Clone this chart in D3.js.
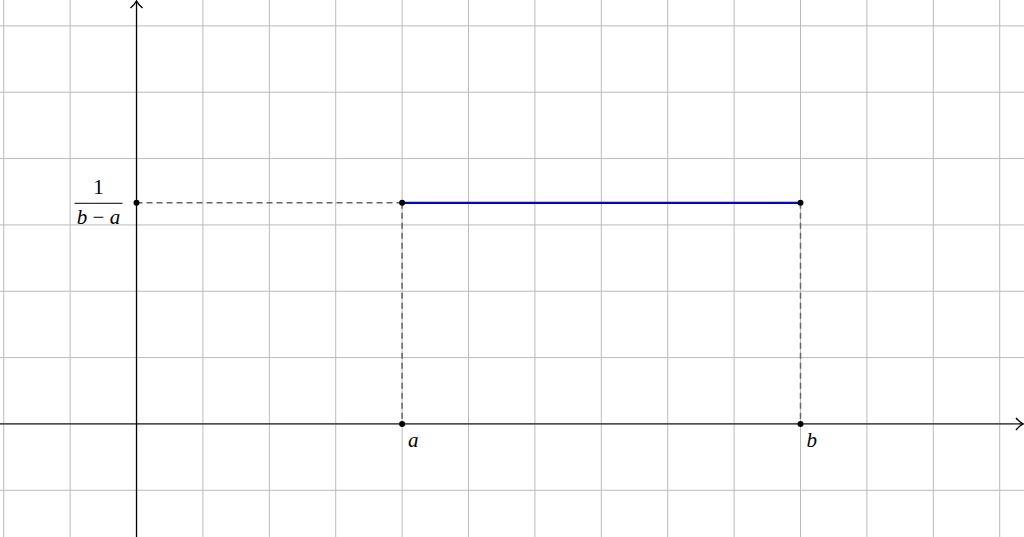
<!DOCTYPE html>
<html>
<head>
<meta charset="utf-8">
<script src="https://cdn.jsdelivr.net/npm/d3@7"></script>
<style>
  html, body { margin: 0; padding: 0; background: #fff; }
  svg { display: block; }
  .lbl { font-family: "Liberation Serif", "DejaVu Serif", serif; font-size: 21px; fill: #000; }
</style>
</head>
<body>
<svg id="chart" width="1024" height="537"></svg>
<script>
// interval endpoints and density height
const endpoints = [4, 10];
const density = [10 / 3];
const endpointLabels = ['a', 'b'];
const gridX = d3.range(-2, 14);
const gridY = d3.range(-1, 7);

const width = 1024, height = 537;
const svg = d3.select('#chart');

// unit ~66.4px, origin at (136.5, 424)
const x = d3.scaleLinear().domain([-2.056, 13.366]).range([0, width]);
const y = d3.scaleLinear().domain([-1.704, 6.39]).range([height, 0]);

const a = endpoints[0], b = endpoints[1], h = density[0];

// grid
svg.append('g').selectAll('line').data(gridX).join('line')
  .attr('x1', d => x(d)).attr('x2', d => x(d))
  .attr('y1', 0).attr('y2', height)
  .attr('stroke', '#bbb').attr('stroke-width', 1);
svg.append('g').selectAll('line').data(gridY).join('line')
  .attr('y1', d => y(d)).attr('y2', d => y(d))
  .attr('x1', 0).attr('x2', width)
  .attr('stroke', '#bbb').attr('stroke-width', 1);

// arrow marker (open chevron)
svg.append('defs').append('marker')
  .attr('id', 'arrow')
  .attr('viewBox', '0 0 14 14')
  .attr('refX', 12).attr('refY', 7)
  .attr('markerWidth', 14).attr('markerHeight', 14)
  .attr('markerUnits', 'userSpaceOnUse')
  .attr('orient', 'auto')
  .append('path')
  .attr('d', 'M5,1 Q9,5.5 12,7 Q9,8.5 5,13')
  .attr('fill', 'none').attr('stroke', '#000').attr('stroke-width', 1.4);

// axes
svg.append('line')
  .attr('x1', 0).attr('x2', width - 1)
  .attr('y1', y(0)).attr('y2', y(0))
  .attr('stroke', '#222').attr('stroke-width', 1.3)
  .attr('marker-end', 'url(#arrow)');
svg.append('line')
  .attr('x1', x(0)).attr('x2', x(0))
  .attr('y1', height).attr('y2', 1)
  .attr('stroke', '#000').attr('stroke-width', 1.3)
  .attr('marker-end', 'url(#arrow)');

// dashed guides
const guides = [
  [[0, h], [a, h]],
  [[a, h], [a, 0]],
  [[b, h], [b, 0]]
];
svg.append('g').selectAll('line').data(guides).join('line')
  .attr('x1', d => x(d[0][0])).attr('y1', d => y(d[0][1]))
  .attr('x2', d => x(d[1][0])).attr('y2', d => y(d[1][1]))
  .attr('stroke', '#666').attr('stroke-width', 1.5)
  .attr('stroke-dasharray', '6,4');

// density segment
svg.append('line')
  .attr('x1', x(a)).attr('x2', x(b))
  .attr('y1', y(h)).attr('y2', y(h))
  .attr('stroke', '#0000ee').attr('stroke-width', 2.2);

// points
const pts = [[0, h], [a, h], [b, h], [a, 0], [b, 0]];
svg.append('g').selectAll('circle').data(pts).join('circle')
  .attr('cx', d => x(d[0])).attr('cy', d => y(d[1]))
  .attr('r', 3).attr('fill', '#000');

// endpoint labels
svg.append('g').selectAll('text').data(endpoints).join('text')
  .attr('class', 'lbl')
  .attr('x', d => x(d) + 6).attr('y', y(0) + 23)
  .style('font-style', 'italic')
  .text((d, i) => endpointLabels[i]);

// fraction label 1/(b-a)
const fx = x(0) - 38, fy = y(h);
svg.append('text').attr('class', 'lbl')
  .attr('x', fx).attr('y', fy - 9)
  .attr('text-anchor', 'middle').text('1');
svg.append('line')
  .attr('x1', fx - 24).attr('x2', fx + 24)
  .attr('y1', fy + 0.5).attr('y2', fy + 0.5)
  .attr('stroke', '#000').attr('stroke-width', 1);
const den = svg.append('text').attr('class', 'lbl')
  .attr('x', fx).attr('y', fy + 21)
  .attr('text-anchor', 'middle');
den.append('tspan').style('font-style', 'italic').text('b');
den.append('tspan').text(' \u2212 ');
den.append('tspan').style('font-style', 'italic').text('a');
</script>
</body>
</html>
